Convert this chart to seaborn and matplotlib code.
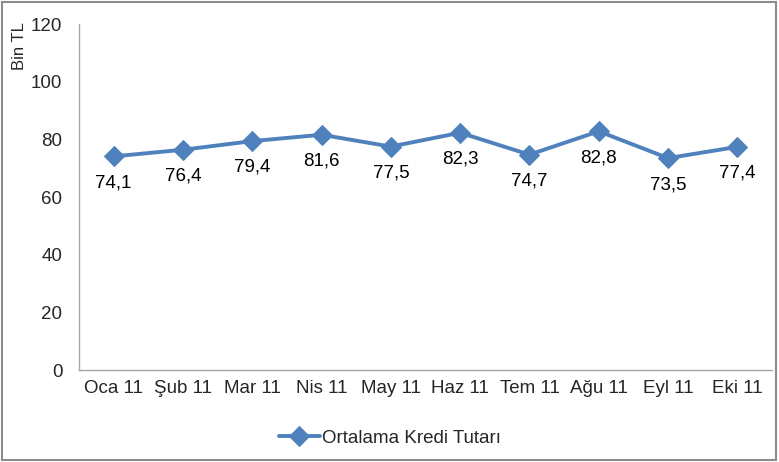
import matplotlib
matplotlib.use("Agg")
import matplotlib.pyplot as plt
import seaborn as sns
import pandas as pd
from matplotlib.patches import Rectangle

months = ["Oca 11", "Şub 11", "Mar 11", "Nis 11", "May 11", "Haz 11", "Tem 11", "Ağu 11", "Eyl 11", "Eki 11"]
values = [74.1, 76.4, 79.4, 81.6, 77.5, 82.3, 74.7, 82.8, 73.5, 77.4]
series_name = "Ortalama Kredi Tutarı"
y_ticks = [0, 20, 40, 60, 80, 100, 120]

sns.set_style("white")
plt.rcParams['font.family'] = ['Liberation Sans', 'DejaVu Sans']

df = pd.DataFrame({"Ay": months, "Değer": values})

fig = plt.figure(figsize=(7.79, 4.62), dpi=100)
ax = fig.add_axes([0.1014, 0.199, 0.8896, 0.749])

color = "#4F81BD"
sns.lineplot(data=df, x="Ay", y="Değer", ax=ax, color=color, linewidth=2.8,
             marker="D", markersize=10, markeredgecolor=color, sort=False,
             label=series_name, legend=False)

for i, v in enumerate(values):
    ax.annotate(f"{v:.1f}".replace(".", ","), (i, v), xytext=(0, -19),
                textcoords="offset points", ha="center", va="center",
                fontsize=13.5, color="black")

ax.set_xlim(-0.5, len(months) - 0.5)
ax.set_ylim(0, 120)
ax.set_yticks(y_ticks)
ax.set_yticklabels([str(t) for t in y_ticks], fontsize=13.5)
ax.set_xticks(range(len(months)))
ax.set_xticklabels(months, fontsize=13.5)
ax.tick_params(axis="x", length=0, pad=7)
ax.tick_params(axis="y", length=0, pad=12)
ax.set_xlabel("")
ax.set_ylabel("")
for s in ["top", "right"]:
    ax.spines[s].set_visible(False)
for s in ["left", "bottom"]:
    ax.spines[s].set_color("#A6A6A6")
    ax.spines[s].set_linewidth(1.0)

fig.text(0.025, 0.952, "Bin TL", rotation=90, ha="center", va="top", fontsize=12)

handles, labels = ax.get_legend_handles_labels()
fig.legend(handles, labels, loc="center", bbox_to_anchor=(0.5, 0.052), frameon=False,
           fontsize=13.5, handlelength=2.2, handletextpad=0.1)

fig.patches.append(Rectangle((0.002, 0.004), 0.994, 0.992, transform=fig.transFigure,
                             fill=False, edgecolor="#8C8C8C", linewidth=1.5))

fig.savefig("out.png", dpi=100)
